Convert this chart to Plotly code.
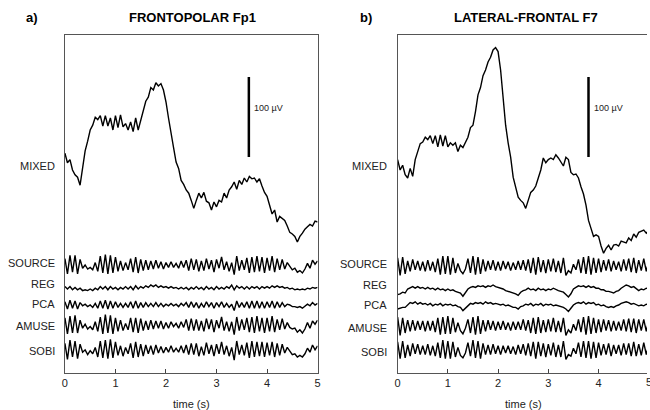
import numpy as np
import plotly.graph_objects as go

# ---------------- data (µV, 0.05 s sampling over 0-5 s) -------------
LABELS = ["MIXED", "SOURCE", "REG", "PCA", "AMUSE", "SOBI"]
X_TICKS = [0, 1, 2, 3, 4, 5]

MIXED_A = [16,4,8,-5,-11,-14,-24,-3,19,31,45,51,61,58,63,50,63,50,60,45,63,48,64,49,53,45,55,43,60,45,
           58,70,81,86,98,95,104,100,103,95,80,60,39,23,5,-3,-18,-23,-30,-34,-43,-53,-43,-34,-40,-33,-44,-46,-55,-45,
           -51,-43,-45,-34,-40,-30,-26,-20,-29,-18,-23,-15,-20,-13,-16,-15,-20,-16,-25,-33,-38,-49,-60,-55,-70,-63,-66,-68,-75,-83,
           -85,-88,-95,-88,-84,-79,-76,-73,-75,-69,-70]
SOURCE_A = [8,-11,12,-9,12,-11,7,-4,0,-5,-3,-6,3,-8,11,-10,13,-11,12,-10,10,-8,5,-7,3,-6,8,-9,10,-10,
            7,-7,6,-6,5,-5,6,-4,4,-5,3,-3,4,-3,2,-4,5,-3,6,-7,8,-6,7,-8,5,-7,8,-5,6,-9,
            7,-4,10,-6,4,-8,3,-12,11,-7,6,-6,9,-10,10,-9,11,-8,10,-10,9,-7,11,-9,8,-6,7,-5,3,-2,
            -6,-4,-9,-7,-10,-5,2,-4,6,1,5]
REG_A = [2,-1,2,-2,1,-2,0,-3,-2,-3,-1,-3,0,-2,2,-1,2,-2,2,-1,1,-2,1,-1,2,-1,2,-2,3,-1,
         2,0,3,1,4,2,4,1,3,1,2,0,2,0,1,-1,1,-1,1,-2,1,-1,2,-1,1,-2,2,-1,1,-2,
         2,-1,1,-1,2,0,4,-2,3,0,2,-1,2,-1,2,0,2,-1,2,0,2,0,3,1,3,1,2,0,1,-1,
         0,-2,-1,-2,-1,-2,0,-1,1,0,1]
PCA_A = [4,-5,6,-4,5,-5,3,-1,1,-2,0,-3,2,-4,5,-4,6,-5,5,-4,4,-3,2,-3,2,-3,4,-4,5,-4,
         3,-3,3,-2,2,-2,3,-2,2,-2,1,-1,2,-1,1,-2,2,-1,3,-3,4,-3,3,-4,2,-3,4,-2,3,-4,
         3,-2,4,-3,2,-3,1,-7,5,-3,3,-3,4,-4,5,-4,5,-4,4,-4,4,-3,5,-4,4,-3,3,-2,1,0,
         -2,-2,-3,-2,-4,-2,1,-1,3,0,2]
AMUSE_A = [9,-11,11,-10,12,-10,6,-4,1,-5,-2,-6,4,-8,10,-11,13,-10,12,-11,9,-8,6,-7,2,-6,9,-9,9,-10,
           8,-7,5,-6,6,-5,5,-4,5,-5,3,-4,4,-2,2,-4,4,-3,7,-7,8,-7,7,-7,5,-8,8,-5,7,-9,
           6,-4,10,-7,4,-8,4,-12,10,-7,7,-6,9,-9,10,-10,11,-8,9,-10,9,-8,11,-9,7,-6,8,-5,3,-3,
           -5,-4,-9,-6,-10,-5,3,-4,5,1,6]
SOBI_A = [8,-12,12,-9,11,-11,7,-3,0,-6,-1,-5,3,-9,11,-10,12,-11,13,-10,10,-7,5,-8,3,-5,8,-10,10,-9,
          7,-8,6,-5,5,-6,6,-4,4,-4,3,-3,5,-3,2,-3,5,-4,6,-6,8,-6,8,-8,4,-7,9,-5,6,-8,
          7,-5,10,-6,5,-8,3,-13,11,-6,6,-7,9,-10,11,-9,10,-8,10,-9,9,-7,10,-9,8,-7,7,-4,3,-2,
          -6,-5,-9,-7,-9,-5,2,-3,6,0,5]

MIXED_B = [8,-5,1,-11,-15,-3,-13,8,18,28,30,36,33,38,28,38,24,39,25,38,24,29,26,29,18,26,23,30,36,48,
           51,68,89,98,113,120,130,136,145,148,143,120,88,51,29,11,-14,-25,-39,-43,-46,-53,-43,-33,-30,-25,-15,-5,10,4,
           8,10,8,14,10,5,0,11,8,-8,-11,-10,-15,-26,-35,-49,-68,-78,-88,-86,-88,-100,-109,-103,-99,-105,-99,-98,-100,-94,
           -95,-96,-90,-93,-85,-89,-83,-81,-80,-84,-80]
SOURCE_B = [10,-12,11,-10,6,-7,8,-5,6,-6,5,-7,7,-6,5,-8,9,-11,12,-10,12,-11,10,-9,3,-6,-10,-4,9,-9,
            12,-11,11,-10,8,-7,6,-5,7,-6,5,-6,6,-4,5,-6,4,-5,6,-5,7,-6,8,-9,10,-11,11,-8,7,-9,
            8,-7,9,-8,6,-9,10,-12,-6,-9,2,-5,8,-9,11,-10,12,-11,10,-9,9,-8,7,-6,8,-7,6,-5,5,-7,
            8,-6,9,-8,10,-9,7,-6,9,-7,6]
REG_B = [-6,-5,-3,-4,1,3,4,2,4,2,3,1,3,1,2,0,2,0,1,-1,1,-1,0,-2,-3,-4,-8,-3,1,3,
         4,3,5,4,5,3,5,4,6,4,3,2,1,-1,-2,-3,-4,-5,-7,-3,-1,0,2,0,1,-1,2,0,1,-1,
         1,0,2,0,-1,-2,-3,-6,-9,-5,1,3,5,4,5,3,5,3,4,2,2,0,0,-2,-2,-3,-4,-2,-1,2,
         4,6,5,3,4,1,-1,1,0,2,1]
PCA_B = [-5,-4,-3,-3,0,3,2,4,1,3,1,2,0,2,-1,1,0,2,-1,1,0,1,-1,0,-2,-3,-7,-4,0,2,
         1,3,2,3,1,4,2,3,1,2,1,0,1,-1,0,-2,-3,-3,-5,-2,-1,1,0,2,-1,1,0,2,-1,1,
         0,1,-1,0,-1,-2,-3,-5,-8,-4,0,2,3,2,4,1,3,2,3,0,1,-1,0,-2,-3,-2,-3,-1,0,2,
         3,4,3,1,2,0,-1,0,-1,1,0]
AMUSE_B = [11,-12,10,-9,7,-7,7,-6,6,-5,6,-7,6,-6,6,-8,10,-11,11,-10,12,-10,10,-8,4,-6,-10,-3,8,-9,
           11,-11,12,-10,7,-7,7,-5,6,-6,5,-5,6,-5,4,-6,5,-5,5,-5,8,-6,7,-9,10,-10,11,-9,7,-8,
           8,-7,10,-8,6,-8,10,-12,-5,-9,2,-6,8,-8,11,-11,12,-10,10,-9,8,-8,8,-6,7,-7,6,-6,5,-6,
           8,-7,9,-8,9,-9,8,-6,8,-7,7]
SOBI_B = [10,-11,11,-10,6,-8,8,-5,7,-6,5,-6,7,-7,5,-8,9,-10,12,-11,11,-11,10,-9,3,-7,-10,-4,9,-8,
          12,-10,11,-11,8,-6,6,-6,7,-5,5,-6,5,-4,5,-5,4,-6,6,-5,7,-7,8,-8,10,-11,10,-8,8,-9,
          7,-7,9,-9,6,-9,11,-12,-6,-8,2,-5,9,-9,11,-10,11,-11,10,-10,9,-7,7,-6,8,-8,6,-5,6,-7,
          8,-6,8,-8,10,-8,7,-7,9,-6,6]

# ---------------- layout constants ----------------
W, H = 650, 410
FONT = "Liberation Sans, Arial, sans-serif"
Y_TOP_PX, Y_BOT_PX = 35, 373
UV_PER_PX = 1.25
Y_MAX = (Y_BOT_PX - Y_TOP_PX) * UV_PER_PX

OFFSETS_A = [258.75, 135, 106, 85, 60, 29]
OFFSETS_B = [258.75, 134, 104, 85, 59, 29]
LABEL_PY_A = [166, 263, 284, 304, 326, 351]
LABEL_PY_B = [166, 264, 285, 305, 328, 352]

panels = [
    dict(series=[MIXED_A, SOURCE_A, REG_A, PCA_A, AMUSE_A, SOBI_A], offs=OFFSETS_A,
         lab_py=LABEL_PY_A, lab_x=55, dom=(62.5, 317.5), rng=(0, 5), bar_t=3.64,
         title="FRONTOPOLAR Fp1", title_x=191, tag="a)", tag_x=29, xlab_x=190, mirror_y=True),
    dict(series=[MIXED_B, SOURCE_B, REG_B, PCA_B, AMUSE_B, SOBI_B], offs=OFFSETS_B,
         lab_py=LABEL_PY_B, lab_x=390, dom=(398.3, 650), rng=(0, 5 * (650 - 398.3) / (651.8 - 398.3)),
         bar_t=3.80, title="LATERAL-FRONTAL F7", title_x=528, tag="b)", tag_x=366, xlab_x=525, mirror_y=False),
]

fig = go.Figure()
annotations = []
shapes = []

for i, p in enumerate(panels, start=1):
    xa = "x" if i == 1 else f"x{i}"
    ya = "y" if i == 1 else f"y{i}"
    for vals, off in zip(p["series"], p["offs"]):
        t = np.linspace(0, 5, len(vals))
        fig.add_trace(go.Scatter(x=t, y=np.array(vals, dtype=float) + off, mode="lines",
                                 line=dict(color="black", width=1.4), xaxis=xa, yaxis=ya,
                                 showlegend=False, hoverinfo="skip"))
    axkey = "xaxis" if i == 1 else f"xaxis{i}"
    aykey = "yaxis" if i == 1 else f"yaxis{i}"
    fig.update_layout(**{
        axkey: dict(domain=[p["dom"][0] / W, p["dom"][1] / W], range=list(p["rng"]),
                    anchor=ya, tickmode="array", tickvals=X_TICKS, ticktext=[str(v) for v in X_TICKS],
                    ticks="inside", ticklen=4, tickcolor="#444", showline=True, linecolor="#555",
                    linewidth=1, mirror=True, showgrid=False, zeroline=False,
                    tickfont=dict(family=FONT, size=11, color="#222")),
        aykey: dict(domain=[(H - Y_BOT_PX) / H, (H - Y_TOP_PX) / H], range=[0, Y_MAX],
                    anchor=xa, showticklabels=False, ticks="", showline=True, linecolor="#555",
                    linewidth=1, mirror=p["mirror_y"], showgrid=False, zeroline=False),
    })
    for lab, py in zip(LABELS, p["lab_py"]):
        annotations.append(dict(text=lab, x=p["lab_x"] / W, y=(H - py) / H, xref="paper", yref="paper",
                                xanchor="right", yanchor="middle", showarrow=False,
                                font=dict(family=FONT, size=11, color="#222")))
    shapes.append(dict(type="line", xref=xa, yref=ya, x0=p["bar_t"], x1=p["bar_t"], y0=270, y1=370,
                       line=dict(color="black", width=2.5)))
    annotations.append(dict(text="100 µV", x=p["bar_t"] + 0.07, y=331, xref=xa, yref=ya,
                            xanchor="left", yanchor="middle", showarrow=False,
                            font=dict(family=FONT, size=9, color="#222")))
    annotations.append(dict(text="<b>" + p["title"] + "</b>", x=p["title_x"] / W, y=(H - 17) / H,
                            xref="paper", yref="paper", xanchor="center", yanchor="middle",
                            showarrow=False, font=dict(family=FONT, size=13, color="black")))
    annotations.append(dict(text="<b>" + p["tag"] + "</b>", x=p["tag_x"] / W, y=(H - 17) / H,
                            xref="paper", yref="paper", xanchor="center", yanchor="middle",
                            showarrow=False, font=dict(family=FONT, size=13, color="black")))
    annotations.append(dict(text="time (s)", x=p["xlab_x"] / W, y=(H - 404) / H,
                            xref="paper", yref="paper", xanchor="center", yanchor="middle",
                            showarrow=False, font=dict(family=FONT, size=11, color="#222")))

# the last tick label of panel b sits on the page edge, as in the reference
annotations.append(dict(text="5", x=651.8 / W, y=(H - 382) / H, xref="paper", yref="paper",
                        xanchor="center", yanchor="middle", showarrow=False,
                        font=dict(family=FONT, size=11, color="#222")))

fig.update_layout(width=W, height=H, margin=dict(l=0, r=0, t=0, b=0),
                  paper_bgcolor="white", plot_bgcolor="white",
                  annotations=annotations, shapes=shapes)
fig.write_html("out.html")
